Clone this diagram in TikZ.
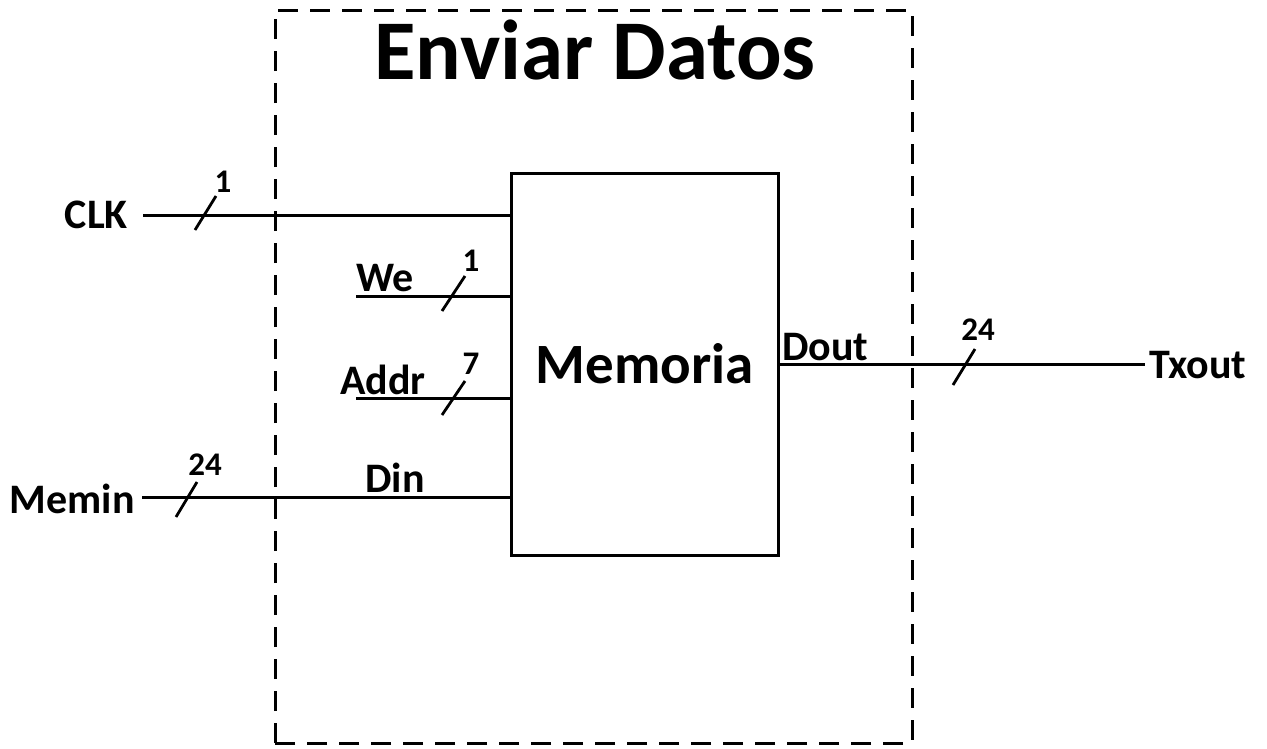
\documentclass[tikz,border=0pt]{standalone}
\usepackage{fontspec}
\setmainfont{Carlito}
\begin{document}
\begin{tikzpicture}[x=1pt,y=-1pt,
  wire/.style={line width=3pt},
  slashmark/.style={line width=2.8pt},
  lbl/.style={font=\fontsize{42}{42}\selectfont\bfseries, inner sep=0pt},
  num/.style={font=\fontsize{33}{33}\selectfont\bfseries, inner sep=0pt},
  framebox/.style={draw, line width=3pt, dash pattern=on 20pt off 12pt},
  membox/.style={draw, line width=3pt, minimum width=267pt, minimum height=382pt, inner sep=0pt, font=\fontsize{57}{57}\selectfont\bfseries}]
\useasboundingbox (0,0) rectangle (1267,748);
% frame
\draw[framebox] (275,743) -- (275,10) -- (912,10) -- (912,743) -- cycle;
\node[font=\fontsize{85}{85}\selectfont\bfseries, inner sep=0pt] (title) at (595,50) {Enviar Datos};
% memory
\node[membox] (mem) at (644.5,364) {Memoria};
\coordinate (pclk) at (mem.west |- 0,215);
\coordinate (pwe) at (mem.west |- 0,296);
\coordinate (paddr) at (mem.west |- 0,398);
\coordinate (pdin) at (mem.west |- 0,497);
\coordinate (pdout) at (mem.east |- 0,364);
% CLK
\node[lbl, anchor=east] (clk) at (128,215) {CLK};
\coordinate (clkS) at (143,215);
\draw[wire] (clkS) -- (pclk);
\coordinate (s1a) at (195,230); \coordinate (s1b) at (216,196);
\draw[slashmark] (s1a) -- (s1b);
\node[num] (n1) at (223,182) {1};
% We
\node[lbl] (we) at (385,278) {We};
\coordinate (weS) at (356,296);
\draw[wire] (weS) -- (pwe);
\coordinate (s2a) at (442,311); \coordinate (s2b) at (465,276);
\draw[slashmark] (s2a) -- (s2b);
\node[num] (n2) at (471,261) {1};
% Addr
\node[lbl] (addr) at (383,380) {Addr};
\coordinate (addrS) at (356,398);
\draw[wire] (addrS) -- (paddr);
\coordinate (s3a) at (442,415); \coordinate (s3b) at (465,381);
\draw[slashmark] (s3a) -- (s3b);
\node[num] (n3) at (471,364) {7};
% Memin / Din
\node[lbl, anchor=east] (memin) at (135,499) {Memin};
\coordinate (meminS) at (142,497);
\draw[wire] (meminS) -- (pdin);
\coordinate (s4a) at (176,517); \coordinate (s4b) at (197,482);
\draw[slashmark] (s4a) -- (s4b);
\node[num] (n4) at (205,465) {24};
\node[lbl] (din) at (395,478) {Din};
% Dout / Txout
\node[lbl, anchor=west] (dout) at (782,347) {Dout};
\node[lbl, anchor=west] (txout) at (1149,365) {Txout};
\coordinate (txS) at (1145,364);
\draw[wire] (pdout) -- (txS);
\coordinate (s5a) at (953,385); \coordinate (s5b) at (975,349);
\draw[slashmark] (s5a) -- (s5b);
\node[num] (n5) at (978,330) {24};
\end{tikzpicture}
\end{document}
